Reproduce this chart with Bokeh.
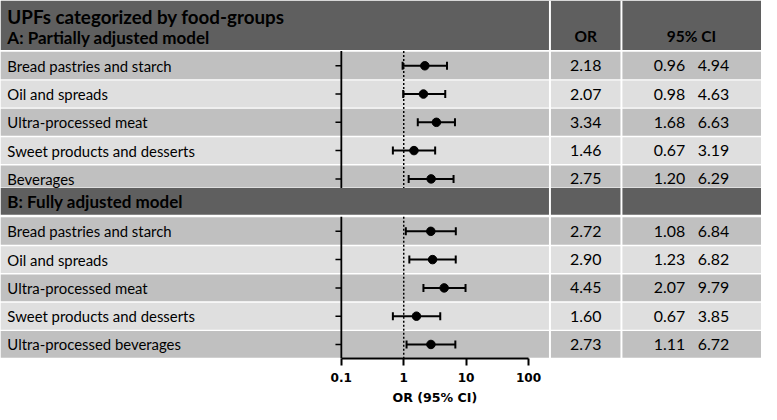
import numpy as np
from bokeh.plotting import figure
from bokeh.models import Range1d, LogScale, LogAxis, FixedTicker
from bokeh.core.properties import value
from bokeh.embed import file_html
from bokeh.resources import INLINE

# ---------------- data ----------------
title = "UPFs categorized by food-groups"
section_a = "A: Partially adjusted model"
section_b = "B: Fully adjusted model"
col_or = "OR"
col_ci = "95% CI"
axis_title = "OR (95% CI)"

groups_a = ["Bread pastries and starch", "Oil and spreads", "Ultra-processed meat",
            "Sweet products and desserts", "Beverages"]
or_a = [2.18, 2.07, 3.34, 1.46, 2.75]
lo_a = [0.96, 0.98, 1.68, 0.67, 1.20]
hi_a = [4.94, 4.63, 6.63, 3.19, 6.29]

groups_b = ["Bread pastries and starch", "Oil and spreads", "Ultra-processed meat",
            "Sweet products and desserts", "Ultra-processed beverages"]
or_b = [2.72, 2.90, 4.45, 1.60, 2.73]
lo_b = [1.08, 1.23, 2.07, 0.67, 1.11]
hi_b = [6.84, 6.82, 9.79, 3.85, 6.72]

ticks = [0.1, 1, 10, 100]
tick_labels = ["0.1", "1", "10", "100"]

# ---------------- layout ----------------
W = 761
FRAME_H = 358
REF_W = 777
FRAME_BOTTOM = 376.0
sx = W / REF_W
sy = FRAME_H / FRAME_BOTTOM
fs = (sx + sy) / 2

X01 = 348.0   # position of the first tick (reference px)
DEC = 63.7    # px per decade
or_start = ticks[0] * 10 ** (-X01 / DEC)
or_end = ticks[0] * 10 ** ((REF_W - X01) / DEC)

HDR_END = 52.0
P = 29.7
A_TOP, A_END = 53.7, 197.0
BH_TOP, BH_END = 197.0, 225.0
B_TOP, B_END = 227.6, FRAME_BOTTOM
GAP = 0.7
COL1, COL2 = 561.0, 634.0
X_LAB = 7.0
X_OR = (COL1 + COL2) / 2
X_CI = (COL2 + REF_W) / 2
X_LO, X_HI = 683.0, 728.0

DARK_HDR = "#5f5f5f"
ROW_DARK = "#c0c0c0"
ROW_LIGHT = "#dfdfdf"

FONT = "Lato"

p = figure(frame_width=W, frame_height=FRAME_H,
           x_range=Range1d(0, REF_W), y_range=Range1d(FRAME_BOTTOM, 0),
           x_axis_type=None, y_axis_type=None, output_backend="svg", toolbar_location=None,
           min_border_left=0, min_border_right=0, min_border_top=0, min_border_bottom=0,
           extra_x_ranges={"or": Range1d(or_start, or_end)},
           extra_x_scales={"or": LogScale()})
p.outline_line_color = None
p.background_fill_color = "white"
p.border_fill_color = "white"


def rows(top, end, n):
    tops, bots, cens = [], [], []
    for i in range(n):
        t = top + i * P
        b = min(top + (i + 1) * P, end)
        tops.append(t + (GAP if i > 0 else 0))
        bots.append(b - GAP)
        cens.append(top + (i + 0.5) * P)
    return tops, bots, cens


ta, ba, ca = rows(A_TOP, A_END, len(groups_a))
tb, bb, cb = rows(B_TOP, B_END, len(groups_b))
colors = [ROW_DARK if i % 2 == 0 else ROW_LIGHT for i in range(len(groups_a))]

# header bands
p.quad(left=[0, 0], right=[REF_W, REF_W], top=[0, BH_TOP], bottom=[HDR_END, BH_END],
       fill_color=DARK_HDR, line_color=None)
# rows
p.quad(left=0, right=REF_W, top=ta + tb, bottom=ba + bb,
       fill_color=colors + colors, line_color=None)
# column dividers
p.segment(x0=[COL1, COL2], x1=[COL1, COL2], y0=[0, 0], y1=[B_END - 0.5, B_END - 0.5],
          line_color="white", line_width=2 * sx)

# forest plot: reference lines
p.segment(x0=[ticks[0]] * 2, x1=[ticks[0]] * 2, y0=[A_TOP - 0.7, B_TOP - 0.6],
          y1=[A_END, B_END], line_color="black", line_width=1.8, x_range_name="or")
p.segment(x0=[ticks[1]] * 2, x1=[ticks[1]] * 2, y0=[A_TOP - 0.7, B_TOP - 0.6],
          y1=[A_END, B_END], line_color="black", line_width=1.5, line_dash="2 2",
          x_range_name="or")
p.ray(x=[ticks[0]] * (len(ca) + len(cb)), y=ca + cb, length=6 * sx, length_units="screen",
      angle=np.pi, line_color="black", line_width=1.5, x_range_name="or")

all_or = or_a + or_b
all_lo = lo_a + lo_b
all_hi = hi_a + hi_b
cen = ca + cb
p.segment(x0=all_lo, x1=all_hi, y0=cen, y1=cen, line_color="black", line_width=2,
          x_range_name="or")
p.scatter(x=all_lo + all_hi, y=cen + cen, marker="dash", angle=np.pi / 2, size=8,
          line_color="black", line_width=2, x_range_name="or")
p.scatter(x=all_or, y=cen, marker="circle", size=8.5, fill_color="black",
          line_color="black", x_range_name="or")


def txt(x, y, t, size, bold=False, align="left", font=FONT):
    p.text(x=x, y=y, text=t, text_font=value(font),
           text_font_size=value(f"{size * fs:.1f}px"),
           text_font_style="bold" if bold else "normal",
           text_align=align, text_baseline="middle", text_color="black")


txt([X_LAB], [17], [title], 19.5, bold=True)
txt([X_LAB], [39], [section_a], 17.6, bold=True)
txt([X_LAB], [(BH_TOP + BH_END) / 2], [section_b], 17.6, bold=True)
txt([X_OR], [37.5], [col_or], 16, bold=True, align="center")
txt([X_CI], [37.5], [col_ci], 16, bold=True, align="center")

txt([X_LAB] * len(cen), cen, groups_a + groups_b, 15.4)
txt([X_OR] * len(cen), cen, [f"{v:.2f}" for v in all_or], 16.5, align="center")
txt([X_LO] * len(cen), cen, [f"{v:.2f}" for v in all_lo], 16.5, align="center")
txt([X_HI] * len(cen), cen, [f"{v:.2f}" for v in all_hi], 16.5, align="center")

# x axis
ax = LogAxis(x_range_name="or", ticker=FixedTicker(ticks=ticks, minor_ticks=[]),
             bounds=(ticks[0], ticks[-1]),
             major_label_overrides={t: l for t, l in zip(ticks, tick_labels)},
             major_tick_in=0, major_tick_out=7,
             axis_line_width=2, major_tick_line_width=2,
             minor_tick_line_color=None, major_label_standoff=7,
             major_label_text_font="DejaVu Sans", major_label_text_font_style="bold",
             major_label_text_font_size=f"{12.5 * fs:.1f}px",
             major_label_text_color="black")
p.add_layout(ax, "below")

# axis title drawn as the single label of a second, line-less axis centred on the scale
mid = float(np.sqrt(ticks[0] * ticks[-1]))
ax2 = LogAxis(x_range_name="or", ticker=FixedTicker(ticks=[mid], minor_ticks=[]),
              major_label_overrides={mid: axis_title},
              axis_line_color=None, major_tick_line_color=None, minor_tick_line_color=None,
              major_tick_in=0, major_tick_out=0, major_label_standoff=5,
              major_label_text_font="DejaVu Sans", major_label_text_font_style="bold",
              major_label_text_font_size=f"{13 * fs:.1f}px",
              major_label_text_color="black")
p.add_layout(ax2, "below")

open("out.html", "w").write(file_html(p, INLINE))
